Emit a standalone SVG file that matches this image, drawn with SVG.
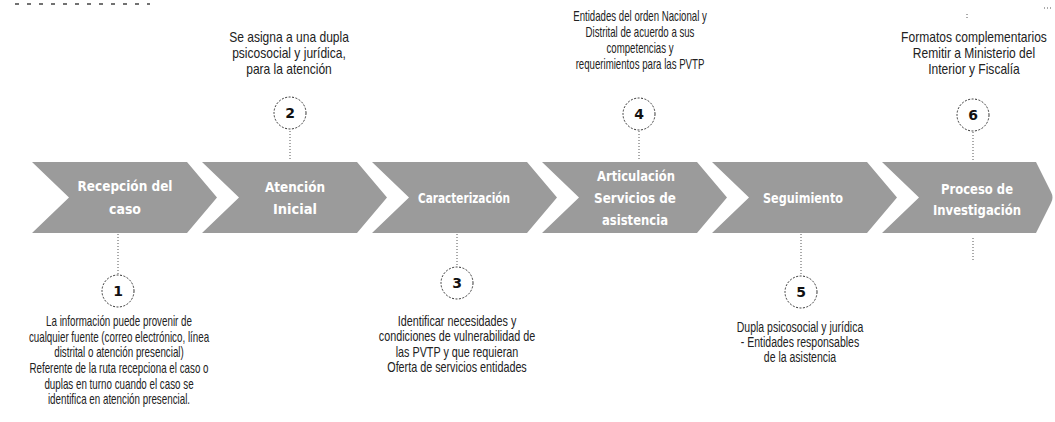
<svg xmlns="http://www.w3.org/2000/svg" width="1055" height="422" viewBox="0 0 1055 422">
<style>
.chev{fill:#9b9b9b;}
.lbl{font-family:"DejaVu Sans","Liberation Sans",sans-serif;font-weight:bold;font-size:14px;fill:#ffffff;text-anchor:middle;}
.desc{font-family:"Liberation Sans","Arial",sans-serif;font-size:14px;fill:#222222;text-anchor:middle;}
.num{font-family:"DejaVu Sans","Liberation Sans",sans-serif;font-weight:bold;font-size:14px;fill:#111111;text-anchor:middle;}
.circ{fill:#ffffff;stroke:#333333;stroke-width:1;stroke-dasharray:2 1.5;}
.dot{stroke:#555555;stroke-width:1;stroke-dasharray:1 2;fill:none;}
</style>

<g id="connectors">
<line class="dot" x1="118" y1="234" x2="118" y2="275"/>
<line class="dot" x1="290" y1="131" x2="290" y2="161"/>
<line class="dot" x1="457" y1="234" x2="457" y2="267"/>
<line class="dot" x1="639" y1="131" x2="639" y2="161"/>
<line class="dot" x1="801" y1="234" x2="801" y2="276"/>
<line class="dot" x1="973" y1="132" x2="973" y2="161"/>
<line class="dot" x1="973" y1="238" x2="973" y2="262"/>
<line class="dot" x1="967" y1="14" x2="967" y2="20"/>
<line class="dot" x1="1044" y1="8" x2="1052" y2="8"/>
<line stroke="#444" stroke-width="1.5" stroke-dasharray="4 8" x1="15" y1="4" x2="150" y2="4"/>
</g>

<g id="step1">
<polygon class="chev" points="32,162 187,162 217,197.5 187,233 32,233 69,197.5"/>
<text class="lbl" x="125" y="191" textLength="95" lengthAdjust="spacingAndGlyphs">Recepción del</text>
<text class="lbl" x="125" y="214" textLength="32" lengthAdjust="spacingAndGlyphs">caso</text>
<circle class="circ" cx="118" cy="291" r="16"/>
<text class="num" x="118" y="296">1</text>
<g transform="translate(119 0) scale(0.70 1)">
<text class="desc" x="0" y="326">La información puede provenir de</text>
<text class="desc" x="0" y="342">cualquier fuente (correo electrónico, línea</text>
<text class="desc" x="0" y="357">distrital o atención presencial)</text>
<text class="desc" x="0" y="373">Referente de la ruta recepciona el caso o</text>
<text class="desc" x="0" y="389">duplas en turno cuando el caso se</text>
<text class="desc" x="0" y="404">identifica en atención presencial.</text>
</g>
</g>

<g id="step2">
<polygon class="chev" points="202,162 357,162 387,197.5 357,233 202,233 239,197.5"/>
<text class="lbl" x="295" y="192" textLength="60" lengthAdjust="spacingAndGlyphs">Atención</text>
<text class="lbl" x="295" y="214" textLength="44" lengthAdjust="spacingAndGlyphs">Inicial</text>
<circle class="circ" cx="290" cy="113" r="16"/>
<text class="num" x="290" y="118">2</text>
<g transform="translate(289 0) scale(0.86 1)">
<text class="desc" x="0" y="42">Se asigna a una dupla</text>
<text class="desc" x="0" y="58">psicosocial y jurídica,</text>
<text class="desc" x="0" y="74">para la atención</text>
</g>
</g>

<g id="step3">
<polygon class="chev" points="372,162 527,162 557,197.5 527,233 372,233 409,197.5"/>
<text class="lbl" x="464" y="203" textLength="92" lengthAdjust="spacingAndGlyphs">Caracterización</text>
<circle class="circ" cx="457" cy="283" r="16"/>
<text class="num" x="457" y="288">3</text>
<g transform="translate(457 0) scale(0.77 1)">
<text class="desc" x="0" y="326">Identificar necesidades y</text>
<text class="desc" x="0" y="341">condiciones de vulnerabilidad de</text>
<text class="desc" x="0" y="357">las PVTP y que requieran</text>
<text class="desc" x="0" y="372">Oferta de servicios entidades</text>
</g>
</g>

<g id="step4">
<polygon class="chev" points="542,162 697,162 727,197.5 697,233 542,233 579,197.5"/>
<text class="lbl" x="636" y="181" textLength="78" lengthAdjust="spacingAndGlyphs">Articulación</text>
<text class="lbl" x="635" y="203" textLength="82" lengthAdjust="spacingAndGlyphs">Servicios de</text>
<text class="lbl" x="635" y="225" textLength="66" lengthAdjust="spacingAndGlyphs">asistencia</text>
<circle class="circ" cx="639" cy="114" r="16"/>
<text class="num" x="639" y="119">4</text>
<g transform="translate(640 0) scale(0.69 1)">
<text class="desc" x="0" y="21">Entidades del orden Nacional y</text>
<text class="desc" x="0" y="37">Distrital de acuerdo a sus</text>
<text class="desc" x="0" y="53">competencias  y</text>
<text class="desc" x="0" y="69">requerimientos para las PVTP</text>
</g>
</g>

<g id="step5">
<polygon class="chev" points="712,162 867,162 897,197.5 867,233 712,233 749,197.5"/>
<text class="lbl" x="803" y="203" textLength="80" lengthAdjust="spacingAndGlyphs">Seguimiento</text>
<circle class="circ" cx="801" cy="292" r="16"/>
<text class="num" x="801" y="297">5</text>
<g transform="translate(800 0) scale(0.75 1)">
<text class="desc" x="0" y="332">Dupla psicosocial y jurídica</text>
<text class="desc" x="0" y="347">- Entidades responsables</text>
<text class="desc" x="0" y="362">de la asistencia</text>
</g>
</g>

<g id="step6">
<path class="chev" d="M882,162 L1036,162 L1051,192 Q1054,197.5 1051,203 L1036,233 L882,233 L919,197.5 Z"/>
<text class="lbl" x="977" y="194" textLength="72" lengthAdjust="spacingAndGlyphs">Proceso de</text>
<text class="lbl" x="977" y="215" textLength="88" lengthAdjust="spacingAndGlyphs">Investigación</text>
<circle class="circ" cx="973" cy="115" r="16"/>
<text class="num" x="973" y="120">6</text>
<g transform="translate(974 0) scale(0.86 1)">
<text class="desc" x="0" y="42">Formatos complementarios</text>
<text class="desc" x="0" y="58">Remitir a Ministerio del</text>
<text class="desc" x="0" y="74">Interior y Fiscalía</text>
</g>
</g>
</svg>
